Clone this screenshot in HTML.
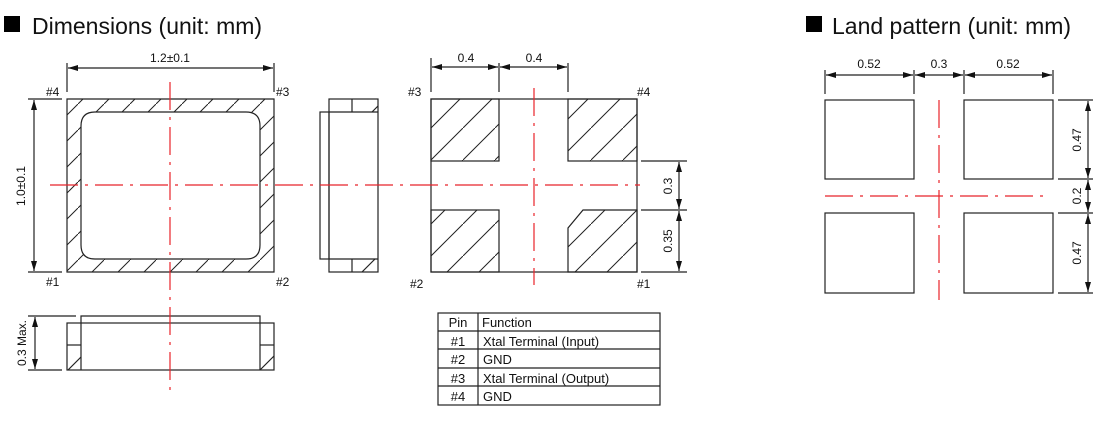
<!DOCTYPE html>
<html><head><meta charset="utf-8"><style>
html,body{margin:0;padding:0;background:#fff;}
svg{display:block;}
text{font-family:"Liberation Sans",sans-serif;fill:#111;}
</style></head><body>
<svg width="1100" height="428" viewBox="0 0 1100 428" xmlns="http://www.w3.org/2000/svg">
<defs>
<pattern id="h1" patternUnits="userSpaceOnUse" width="26" height="26">
<line x1="-2" y1="28" x2="28" y2="-2" stroke="#222" stroke-width="1"/>
</pattern>
<pattern id="h2" patternUnits="userSpaceOnUse" width="32" height="32" x="431">
<line x1="-2" y1="34" x2="34" y2="-2" stroke="#222" stroke-width="1"/>
</pattern>
<marker id="ar" viewBox="0 0 10 6" refX="10" refY="3" markerWidth="10" markerHeight="6" orient="auto-start-reverse" markerUnits="userSpaceOnUse">
<path d="M0,0 L10,3 L0,6 z" fill="#111"/>
</marker>
</defs>

<!-- titles -->
<rect x="4" y="16" width="16" height="16" fill="#000"/>
<text x="32" y="34" font-size="23">Dimensions (unit: mm)</text>
<rect x="806" y="16" width="16" height="16" fill="#000"/>
<text x="832" y="34" font-size="23">Land pattern (unit: mm)</text>

<g stroke="#222" stroke-width="1.2" fill="none">
<path d="M67,99 H274 V272 H67 Z M95,112 H246 Q260,112 260,126 V245 Q260,259 246,259 H95 Q81,259 81,245 V126 Q81,112 95,112 Z" fill="url(#h1)" fill-rule="evenodd"/>
<line x1="67" y1="63" x2="67" y2="92"/>
<line x1="274" y1="63" x2="274" y2="92"/>
<line x1="68" y1="68" x2="273" y2="68" marker-start="url(#ar)" marker-end="url(#ar)"/>
<line x1="28" y1="99" x2="62" y2="99"/>
<line x1="28" y1="272" x2="62" y2="272"/>
<line x1="34" y1="100" x2="34" y2="271" marker-start="url(#ar)" marker-end="url(#ar)"/>
<rect x="329" y="99" width="49" height="173"/>
<rect x="320" y="112" width="9" height="147"/>
<line x1="329" y1="112" x2="378" y2="112"/>
<line x1="329" y1="259" x2="378" y2="259"/>
<line x1="352" y1="99" x2="352" y2="112"/>
<line x1="352" y1="259" x2="352" y2="272"/>
<line x1="372" y1="112" x2="378" y2="106"/>
<line x1="362" y1="272" x2="375" y2="259"/>
<rect x="67" y="323" width="207" height="47"/>
<path d="M81,370 V316 H260 V370"/>
<line x1="67" y1="345" x2="81" y2="345"/>
<line x1="260" y1="345" x2="274" y2="345"/>
<line x1="68" y1="370" x2="81" y2="357"/>
<line x1="260" y1="370" x2="274" y2="356"/>
<line x1="28" y1="316" x2="76" y2="316"/>
<line x1="28" y1="370" x2="62" y2="370"/>
<line x1="35" y1="317" x2="35" y2="369" marker-start="url(#ar)" marker-end="url(#ar)"/>

<rect x="431" y="99" width="206" height="173"/>
<rect x="431" y="99" width="68" height="62" fill="url(#h2)"/>
<rect x="568" y="99" width="69" height="62" fill="url(#h2)"/>
<rect x="431" y="210" width="68" height="62" fill="url(#h2)"/>
<path d="M568,272 V228 L583,210 H637 V272 Z" fill="url(#h2)"/>
<line x1="431" y1="58" x2="431" y2="92"/>
<line x1="499" y1="63" x2="499" y2="92"/>
<line x1="568" y1="63" x2="568" y2="92"/>
<line x1="432" y1="67" x2="498" y2="67" marker-start="url(#ar)" marker-end="url(#ar)"/>
<line x1="500" y1="67" x2="567" y2="67" marker-start="url(#ar)" marker-end="url(#ar)"/>
<line x1="641" y1="161" x2="687" y2="161"/>
<line x1="641" y1="210" x2="687" y2="210"/>
<line x1="641" y1="272" x2="687" y2="272"/>
<line x1="679" y1="162" x2="679" y2="209" marker-start="url(#ar)" marker-end="url(#ar)"/>
<line x1="679" y1="211" x2="679" y2="271" marker-start="url(#ar)" marker-end="url(#ar)"/>

<rect x="438" y="313" width="222" height="92"/>
<line x1="438" y1="331" x2="660" y2="331"/>
<line x1="438" y1="349" x2="660" y2="349"/>
<line x1="438" y1="368" x2="660" y2="368"/>
<line x1="438" y1="386" x2="660" y2="386"/>
<line x1="478" y1="313" x2="478" y2="405"/>

<rect x="825" y="100" width="89" height="79"/>
<rect x="964" y="100" width="89" height="79"/>
<rect x="825" y="213" width="89" height="80"/>
<rect x="964" y="213" width="89" height="80"/>
<line x1="825" y1="70" x2="825" y2="94"/>
<line x1="914" y1="70" x2="914" y2="94"/>
<line x1="964" y1="70" x2="964" y2="94"/>
<line x1="1053" y1="70" x2="1053" y2="94"/>
<line x1="826" y1="75" x2="913" y2="75" marker-start="url(#ar)" marker-end="url(#ar)"/>
<line x1="915" y1="75" x2="963" y2="75" marker-start="url(#ar)" marker-end="url(#ar)"/>
<line x1="965" y1="75" x2="1052" y2="75" marker-start="url(#ar)" marker-end="url(#ar)"/>
<line x1="1058" y1="100" x2="1093" y2="100"/>
<line x1="1058" y1="179" x2="1093" y2="179"/>
<line x1="1058" y1="213" x2="1093" y2="213"/>
<line x1="1058" y1="293" x2="1093" y2="293"/>
<line x1="1088" y1="101" x2="1088" y2="178" marker-start="url(#ar)" marker-end="url(#ar)"/>
<line x1="1088" y1="180" x2="1088" y2="212" marker-start="url(#ar)" marker-end="url(#ar)"/>
<line x1="1088" y1="214" x2="1088" y2="292" marker-start="url(#ar)" marker-end="url(#ar)"/>
</g>

<g stroke="#e8232a" stroke-width="1.2" fill="none" stroke-dasharray="28 7 3 7">
<line x1="50" y1="185" x2="640" y2="185"/>
<line x1="170" y1="82" x2="170" y2="390"/>
<line x1="534" y1="88" x2="534" y2="285"/>
<line x1="825" y1="196" x2="1046" y2="196"/>
<line x1="939" y1="100" x2="939" y2="300"/>
</g>

<g font-size="12">
<text x="170" y="62" text-anchor="middle">1.2±0.1</text>
<text x="46" y="96">#4</text>
<text x="276" y="96">#3</text>
<text x="46" y="286">#1</text>
<text x="276" y="286">#2</text>
<text transform="translate(25,186) rotate(-90)" text-anchor="middle">1.0±0.1</text>
<text transform="translate(26,343) rotate(-90)" text-anchor="middle">0.3 Max.</text>
<text x="466" y="62" text-anchor="middle">0.4</text>
<text x="534" y="62" text-anchor="middle">0.4</text>
<text x="408" y="96">#3</text>
<text x="637" y="96">#4</text>
<text x="410" y="288">#2</text>
<text x="637" y="288">#1</text>
<text transform="translate(672,186) rotate(-90)" text-anchor="middle">0.3</text>
<text transform="translate(672,241) rotate(-90)" text-anchor="middle">0.35</text>
<text x="869" y="68" text-anchor="middle">0.52</text>
<text x="939" y="68" text-anchor="middle">0.3</text>
<text x="1008" y="68" text-anchor="middle">0.52</text>
<text transform="translate(1081,140) rotate(-90)" text-anchor="middle">0.47</text>
<text transform="translate(1081,196) rotate(-90)" text-anchor="middle">0.2</text>
<text transform="translate(1081,253) rotate(-90)" text-anchor="middle">0.47</text>
</g>
<g font-size="13">
<text x="458" y="327" text-anchor="middle">Pin</text>
<text x="482" y="327">Function</text>
<text x="458" y="346" text-anchor="middle">#1</text>
<text x="483" y="346">Xtal Terminal (Input)</text>
<text x="458" y="364" text-anchor="middle">#2</text>
<text x="483" y="364">GND</text>
<text x="458" y="383" text-anchor="middle">#3</text>
<text x="483" y="383">Xtal Terminal (Output)</text>
<text x="458" y="401" text-anchor="middle">#4</text>
<text x="483" y="401">GND</text>
</g>
</svg>
</body></html>
